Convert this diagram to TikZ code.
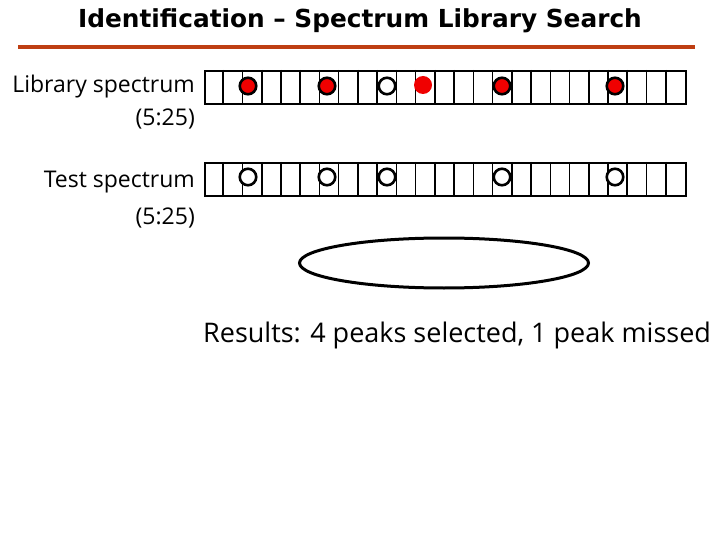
\documentclass[tikz,border=0pt]{standalone}
\usepackage{fontspec}
\setmainfont{Open Sans}
\newfontfamily\titlefont{DejaVu Sans}
\usetikzlibrary{shapes.geometric,calc}
\definecolor{rule}{RGB}{190,62,18}
\definecolor{peak}{RGB}{240,0,0}
\tikzset{
  bar/.style={draw, line width=2.4pt, minimum width=481pt, minimum height=33pt, inner sep=0pt},
  cellline/.style={line width=1.6pt},
  openpk/.style={circle, draw, line width=2.6pt, fill=white, minimum size=16.5pt, inner sep=0pt},
  redpk/.style={circle, draw, line width=2.6pt, fill=peak, minimum size=16.5pt, inner sep=0pt},
  barepk/.style={circle, fill=peak, minimum size=18pt, inner sep=0pt},
  lbl/.style={anchor=east, font=\fontsize{23}{27}\selectfont, inner sep=0pt},
}
\begin{document}
\begin{tikzpicture}[x=1pt,y=-1pt]
\useasboundingbox (0,0) rectangle (720,540);
\node[font=\titlefont\bfseries\fontsize{24.8}{28}\selectfont, inner sep=0pt] (title) at (360,21) {Identification – Spectrum Library Search};
\draw[rule, line width=4pt] (18,47) -- (695,47);

\node[bar, anchor=north west] (lib) at (204,70) {};
\node[bar, anchor=north west] (test) at (204,162) {};
\foreach \i in {1,...,24} {
  \draw[cellline] ($(lib.north west)+(\i*19.24,0)$) -- ($(lib.south west)+(\i*19.24,0)$);
  \draw[cellline] ($(test.north west)+(\i*19.24,0)$) -- ($(test.south west)+(\i*19.24,0)$);
}

\node[lbl] (liblbl) at (195,87) {Library spectrum};
\node[lbl] (libsub) at (195,119) {(5:25)};
\node[lbl] (testlbl) at (195,182) {Test spectrum};
\node[lbl] (testsub) at (195,218) {(5:25)};

\node[redpk] (l1) at (248,86) {};
\node[redpk] (l2) at (327,86) {};
\node[openpk] (l3) at (387,86) {};
\node[barepk] (l4) at (423,85) {};
\node[redpk] (l5) at (502,86) {};
\node[redpk] (l6) at (615,86) {};

\node[openpk] (t1) at (248,177) {};
\node[openpk] (t2) at (327,177) {};
\node[openpk] (t3) at (387,177) {};
\node[openpk] (t5) at (502,177) {};
\node[openpk] (t6) at (615,177) {};

\node[ellipse, draw, line width=3pt, minimum width=289pt, minimum height=50pt, inner sep=0pt] (oval) at (444,263) {};

\node[anchor=west, inner sep=0pt, font=\fontsize{27}{31}\selectfont] (res) at (203,335) {Results: 4 peaks selected, 1 peak missed};
\end{tikzpicture}
\end{document}
